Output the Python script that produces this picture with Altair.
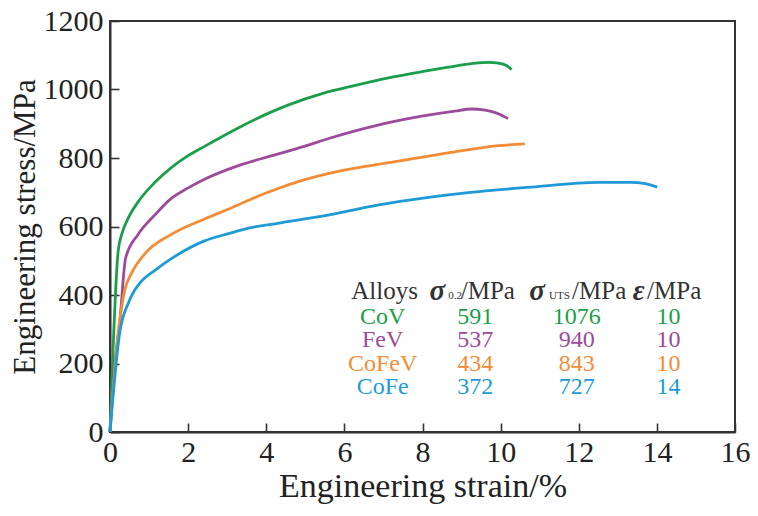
import altair as alt
import pandas as pd

# ---- curve data ----
alloys = ["CoV", "FeV", "CoFeV", "CoFe"]
colors = ["#1b9e4b", "#9c4a9a", "#f28c37", "#1e9bd7"]

strain_cov = [0, 0.21, 0.30, 0.47, 0.72, 1.15, 1.57, 1.99, 2.42, 3.27, 4.12, 4.59, 5.43, 6.28, 7.13,
              7.98, 8.66, 9.3, 9.7, 9.94, 10.15, 10.28]
stress_cov = [0, 529, 577, 625, 672, 729, 772, 806, 834, 887, 934, 956, 988, 1012, 1034,
              1052, 1065, 1076, 1079, 1077, 1070, 1058]

strain_fev = [0, 0.13, 0.25, 0.40, 0.72, 1.15, 1.57, 1.99, 2.42, 3.27, 4.12, 4.97, 5.6, 6.28,
              7.13, 7.98, 8.83, 9.26, 9.6, 9.9, 10.19]
stress_fev = [0, 206, 320, 508, 577, 634, 682, 712, 738, 777, 806, 834, 857, 879,
              903, 922, 937, 943, 940, 931, 915]

strain_cofev = [0, 0.21, 0.38, 0.55, 0.89, 1.57, 2.42, 3.06, 3.91, 4.76, 5.61, 6.62, 7.39,
                8.66, 9.94, 10.62]
stress_cofev = [0, 291, 415, 463, 520, 577, 622, 652, 694, 729, 755, 777, 791,
                815, 836, 841]

strain_cofe = [0, 0.25, 0.47, 0.62, 0.8, 1.15, 1.57, 2.42, 3.06, 3.57, 4.33, 5.61, 6.88, 8.15,
               9.17, 10.79, 12.48, 13.33, 13.7, 14.01]
stress_cofe = [0, 291, 377, 412, 440, 472, 506, 558, 580, 596, 610, 634, 663, 685,
               699, 715, 729, 729, 725, 715]

# ---- table data ----
sigma_02 = ["591", "537", "434", "372"]
sigma_uts = ["1076", "940", "843", "727"]
elong = ["10", "10", "10", "14"]

x_ticks = list(range(0, 17, 2))
y_ticks = list(range(0, 1201, 200))

FONT = "Liberation Serif"
AX = "#333333"

rows = []
for name, xs, ys in [("CoV", strain_cov, stress_cov), ("FeV", strain_fev, stress_fev),
                     ("CoFeV", strain_cofev, stress_cofev), ("CoFe", strain_cofe, stress_cofe)]:
    for i, (a, b) in enumerate(zip(xs, ys)):
        rows.append({"alloy": name, "strain": a, "stress": b, "order": i})
curves = pd.DataFrame(rows)

xscale = alt.Scale(domain=[0, 16], nice=False)
yscale = alt.Scale(domain=[0, 1200], nice=False)
cscale = alt.Scale(domain=alloys, range=colors)

lines = alt.Chart(curves).mark_line(strokeWidth=2.8, interpolate="monotone").encode(
    x=alt.X("strain:Q", scale=xscale, axis=alt.Axis(
        values=x_ticks, format="d", ticks=False, grid=False, domainColor=AX, domainWidth=2,
        labelFont=FONT, labelFontSize=30, labelColor="#222", labelPadding=5, labelFlush=False,
        title="Engineering strain/%", titleFont=FONT, titleFontSize=34,
        titleFontWeight="normal", titleColor="#222", titlePadding=2)),
    y=alt.Y("stress:Q", scale=yscale, axis=alt.Axis(
        values=y_ticks, format="d", ticks=False, grid=False, domainColor=AX, domainWidth=2,
        labelFont=FONT, labelFontSize=30, labelColor="#222", labelPadding=7, labelFlush=False,
        title="Engineering stress/MPa", titleFont=FONT, titleFontSize=31,
        titleFontWeight="normal", titleColor="#222", titlePadding=2)),
    color=alt.Color("alloy:N", scale=cscale, legend=None),
    detail="alloy:N",
    order="order:Q",
)

tick_layer = alt.Chart(curves).mark_line(strokeOpacity=0).encode(
    x=alt.X("strain:Q", scale=xscale, axis=alt.Axis(
        values=x_ticks, orient="bottom", offset=-9, tickSize=9, tickWidth=1.6, tickColor=AX,
        labels=False, domain=False, grid=False, title=None)),
    y=alt.Y("stress:Q", scale=yscale, axis=alt.Axis(
        values=y_ticks, orient="left", offset=-9, tickSize=9, tickWidth=1.6, tickColor=AX,
        labels=False, domain=False, grid=False, title=None)),
    detail="alloy:N",
)

# ---- table as text ----
col_x = [6.98, 9.35, 11.95, 14.3]
row_y = [337, 269, 200, 131]
header_y = 411

trows = []
for i, name in enumerate(alloys):
    for j, val in enumerate([name, sigma_02[i], sigma_uts[i], elong[i]]):
        trows.append({"x": col_x[j], "y": row_y[i], "t": val, "alloy": name})
table = pd.DataFrame(trows)

table_text = alt.Chart(table).mark_text(font=FONT, fontSize=24, baseline="middle", align="center").encode(
    x=alt.X("x:Q", scale=xscale, axis=None),
    y=alt.Y("y:Q", scale=yscale, axis=None),
    text="t:N",
    color=alt.Color("alloy:N", scale=cscale, legend=None),
)

header_plain = pd.DataFrame({
    "x": [8.98, 11.83, 13.75],
    "y": [header_y] * 3,
    "t": ["/MPa", "/MPa", "/MPa"],
})
header_alloys = pd.DataFrame({"x": [7.03], "y": [header_y], "t": ["Alloys"]})
header_sym = pd.DataFrame({
    "x": [8.18, 10.73, 13.38],
    "y": [header_y] * 3,
    "t": ["σ", "σ", "ε"],
})
header_sub = pd.DataFrame({
    "x": [8.66, 11.24],
    "y": [header_y - 14] * 2,
    "t": ["0.2", "UTS"],
})

def txt(df, **kw):
    return alt.Chart(df).mark_text(font=FONT, baseline="middle", color="#333", **kw).encode(
        x=alt.X("x:Q", scale=xscale, axis=None),
        y=alt.Y("y:Q", scale=yscale, axis=None),
        text="t:N",
    )

h1 = txt(header_alloys, fontSize=25, align="center")
h2 = txt(header_plain, fontSize=25, align="left")
h3 = txt(header_sym, fontSize=29, align="left", fontStyle="italic", fontWeight="bold")
h4 = txt(header_sub, fontSize=11, align="left")

chart = alt.layer(lines, tick_layer, table_text, h1, h2, h3, h4).resolve_axis(
    x="independent", y="independent"
).properties(
    width=625, height=411,
    padding={"left": 102, "top": 13, "right": 15, "bottom": 76},
    autosize=alt.AutoSizeParams(type="none"),
).configure_view(stroke=AX, strokeWidth=2)

chart.save("out.html", embed_options={"renderer": "svg", "actions": False})
